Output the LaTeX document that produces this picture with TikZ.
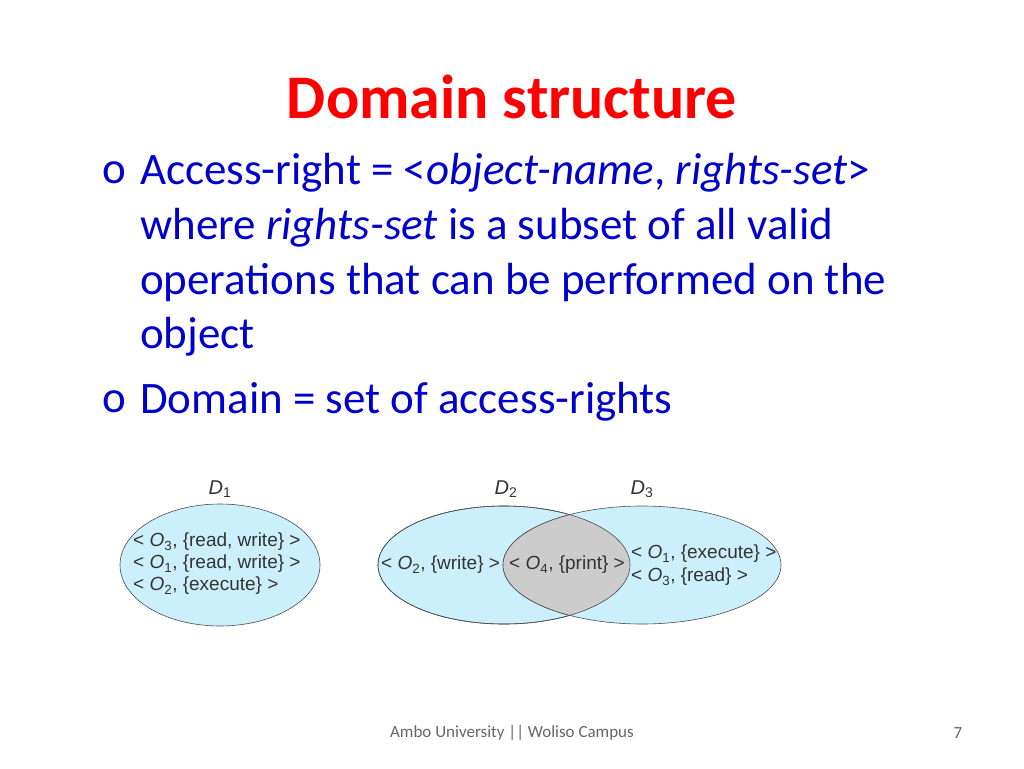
\documentclass[tikz,border=0pt]{standalone}
\usepackage{fontspec}
\usetikzlibrary{shapes.geometric}
\setmainfont{Carlito}
\newfontfamily\arialf{Liberation Sans}
\begin{document}
\begin{tikzpicture}[x=1pt,y=-1pt,
 body/.style={anchor=west,text=blue!80!black,font=\fontsize{45}{50}\selectfont,inner sep=0},
 ell/.style={draw=black!70,line width=0.6pt,fill=cyan!20},
 lab/.style={font=\arialf\fontsize{19}{22}\selectfont,text=black!80,inner sep=0},
 dl/.style={font=\arialf\itshape\fontsize{20}{22}\selectfont,text=black!80}]
\useasboundingbox (0,0) rectangle (1024,768);
\node[text=red,font=\bfseries\fontsize{62}{68}\selectfont] (title) at (512,97) {Domain structure};
\node[body] (b1) at (102,173) {o};
\node[body] (t1) at (140,173) {Access-right = <\textit{object-name}, \textit{rights-set}>};
\node[body] (t2) at (140,228) {where \textit{rights-set} is a subset of all valid};
\node[body] (t3) at (140,282) {operations that can be performed on the};
\node[body] (t4) at (140,337) {object};
\node[body] (b2) at (102,402) {o};
\node[body] (t5) at (140,402) {Domain = set of access-rights};
% D1
\node[ell,ellipse,minimum width=200,minimum height=122] (e1) at (220,565) {};
\node[dl] (d1) at (220,489) {D\textsubscript{\upshape 1}};
\node[lab,anchor=west] (l1) at (133,542) {< \textit{O}\textsubscript{3}, \{read, write\} >};
\node[lab,anchor=west] (l2) at (133,564) {< \textit{O}\textsubscript{1}, \{read, write\} >};
\node[lab,anchor=west] (l3) at (133,586) {< \textit{O}\textsubscript{2}, \{execute\} >};
% D2, D3
\node[ell,ellipse,minimum width=252,minimum height=118] (e2) at (504,565) {};
\node[ell,ellipse,minimum width=278,minimum height=118] (e3) at (642,565) {};
\begin{scope}
\clip (504,565) ellipse (126 and 59);
\fill[black!20,draw=black!70,line width=0.6pt] (642,565) ellipse (139 and 59);
\end{scope}
\draw[black!70,line width=0.6pt] (504,565) ellipse (126 and 59);
\node[dl] (d2) at (506,489) {D\textsubscript{\upshape 2}};
\node[dl] (d3) at (642,489) {D\textsubscript{\upshape 3}};
\node[lab,anchor=west] (l4) at (381,565) {< \textit{O}\textsubscript{2}, \{write\} >};
\node[lab,anchor=west] (l5) at (509,565) {< \textit{O}\textsubscript{4}, \{print\} >};
\node[lab,anchor=west] (l6) at (631,554) {< \textit{O}\textsubscript{1}, \{execute\} >};
\node[lab,anchor=west] (l7) at (631,577) {< \textit{O}\textsubscript{3}, \{read\} >};
\node[text=black!60,font=\fontsize{17}{19}\selectfont] (foot) at (512,733) {Ambo University || Woliso Campus};
\node[text=black!60,font=\fontsize{17}{19}\selectfont] (pg) at (958,733) {7};
\end{tikzpicture}
\end{document}
